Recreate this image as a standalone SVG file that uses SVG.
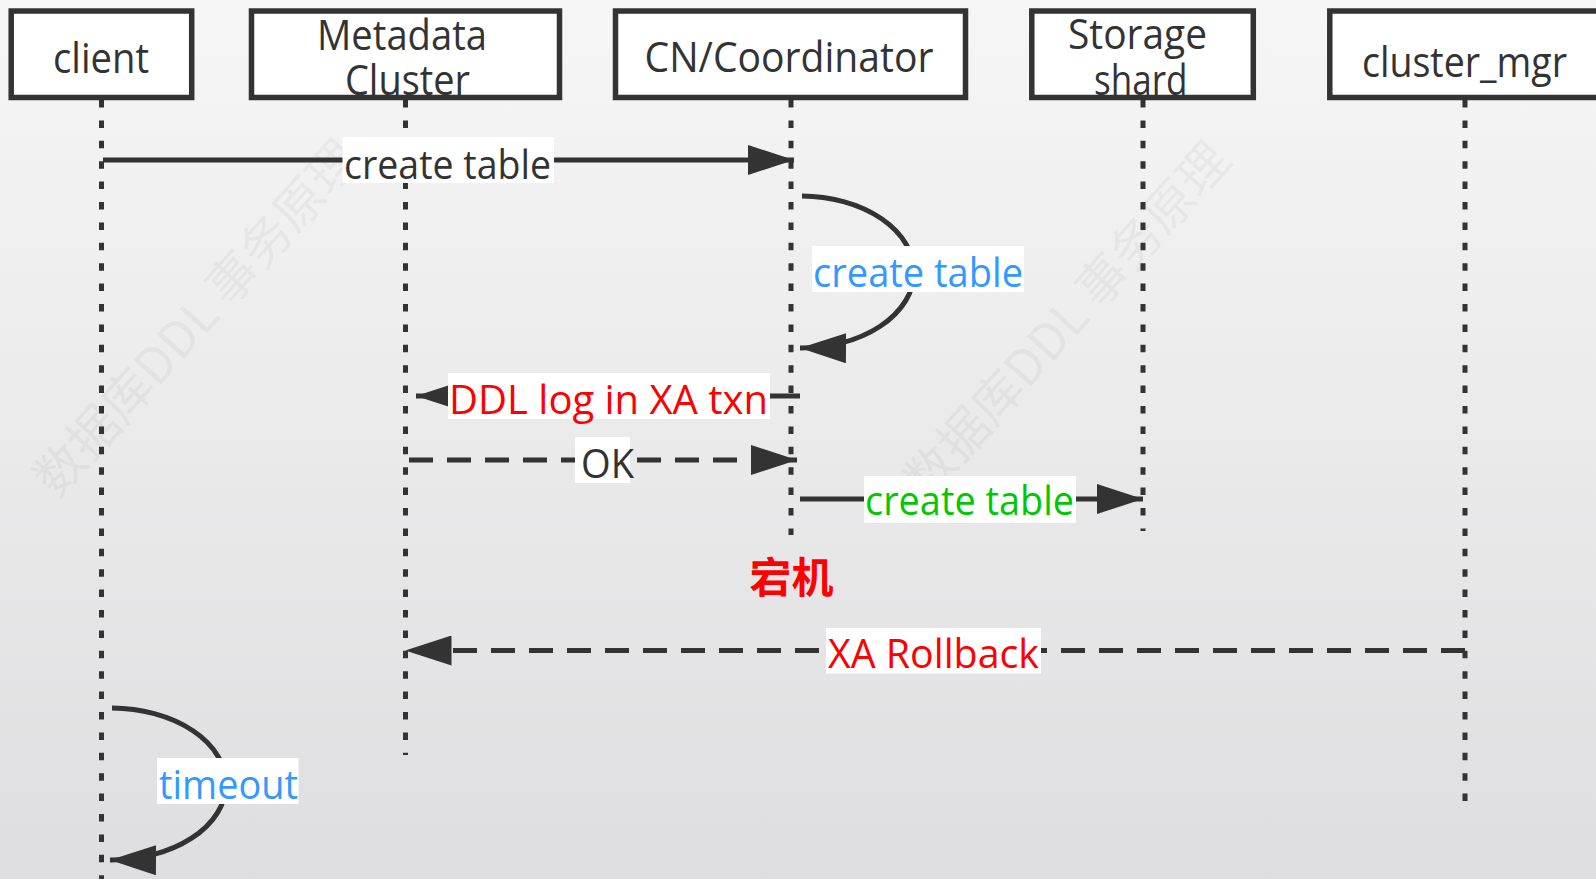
<svg xmlns="http://www.w3.org/2000/svg" width="1596" height="879" viewBox="0 0 1596 879">
  <defs>
    <linearGradient id="bg" x1="0" y1="0" x2="0" y2="1">
      <stop offset="0" stop-color="#f6f6f6"/>
      <stop offset="1" stop-color="#dedee0"/>
    </linearGradient>
    <marker id="arrow" markerUnits="userSpaceOnUse" viewBox="0 0 46 30" refX="46" refY="15" markerWidth="46" markerHeight="30" orient="auto">
      <path d="M0,0 L46,15 L0,30 Z" fill="#333333"/>
    </marker>
    <style>
      .fill { fill: #ffffff; stroke: none; }
      .frame { fill: none; stroke: #333333; stroke-width: 5.5; }
      .head { font-family: "Open Sans", "Noto Sans", sans-serif; font-size: 42px; fill: #333333; }
      .life { fill: none; stroke: #333333; stroke-width: 5; stroke-dasharray: 7.5 12.9; }
      .msg { fill: none; stroke: #333333; stroke-width: 5; }
      .dash { stroke-dasharray: 24 14; }
      .lblbg { fill: #ffffff; }
      .lbl { font-family: "Open Sans", "Noto Sans", sans-serif; font-size: 40px; }
      .cjk { font-family: "Noto Sans CJK SC", sans-serif; font-size: 42px; font-weight: bold; }
      .dark { fill: #333333; }
      .blue { fill: #3399ff; }
      .red { fill: #ff0000; }
      .green { fill: #00c800; }
      .wm { font-family: "Noto Sans CJK SC", sans-serif; font-size: 50px; fill: #000000; opacity: 0.035; }
    </style>
  </defs>

  <!-- backdrop -->
  <rect x="0" y="0" width="1596" height="879" fill="url(#bg)"/>

  <!-- faint diagonal stamps -->
  <g id="watermarks">
    <text class="wm" text-anchor="middle" transform="translate(210,330) rotate(-48)">数据库DDL 事务原理</text>
    <text class="wm" text-anchor="middle" transform="translate(1080,332) rotate(-48)">数据库DDL 事务原理</text>
  </g>

  <!-- lifelines -->
  <g id="lifelines">
    <line class="life" x1="101.5" y1="100" x2="101.5" y2="879"/>
    <line class="life" x1="405.5" y1="100" x2="405.5" y2="755"/>
    <line class="life" x1="791" y1="100" x2="791" y2="535"/>
    <line class="life" x1="1143" y1="100" x2="1143" y2="531"/>
    <line class="life" x1="1465" y1="100" x2="1465" y2="813"/>
  </g>

  <!-- messages -->
  <g id="connectors">
    <line class="msg" x1="103" y1="160" x2="794" y2="160" marker-end="url(#arrow)"/>
    <path class="msg" d="M802,196 A113,76 0 0 1 800,348" marker-end="url(#arrow)"/>
    <line class="msg" x1="800" y1="396" x2="416" y2="396" marker-end="url(#arrow)"/>
    <line class="msg dash" x1="409" y1="460" x2="797" y2="460" marker-end="url(#arrow)"/>
    <line class="msg" x1="800" y1="499" x2="1143" y2="499" marker-end="url(#arrow)"/>
    <line class="msg dash" x1="1465" y1="650.5" x2="405.5" y2="650.5" marker-end="url(#arrow)"/>
    <path class="msg" d="M112,708 A115,76 0 0 1 110,860" marker-end="url(#arrow)"/>
  </g>

  <!-- message labels -->
  <g id="label-create-1">
    <rect class="lblbg" x="342.5" y="137" width="211.5" height="46"/>
    <text class="lbl dark" x="344" y="179" textLength="207" lengthAdjust="spacingAndGlyphs">create table</text>
  </g>
  <g id="label-create-self">
    <rect class="lblbg" x="812" y="246" width="212" height="46"/>
    <text class="lbl blue" x="813" y="287" textLength="210" lengthAdjust="spacingAndGlyphs">create table</text>
  </g>
  <g id="label-ddl-log">
    <rect class="lblbg" x="448" y="373" width="322" height="46"/>
    <text class="lbl red" x="449" y="414" textLength="319" lengthAdjust="spacingAndGlyphs">DDL log in XA txn</text>
  </g>
  <g id="label-ok">
    <rect class="lblbg" x="575" y="437" width="55" height="46"/>
    <text class="lbl dark" x="581" y="478" textLength="53" lengthAdjust="spacingAndGlyphs">OK</text>
  </g>
  <g id="label-create-shard">
    <rect class="lblbg" x="864" y="476" width="212" height="47"/>
    <text class="lbl green" x="865" y="515" textLength="209" lengthAdjust="spacingAndGlyphs">create table</text>
  </g>
  <g id="label-crash">
    <text class="cjk red" x="791.5" y="593" text-anchor="middle">宕机</text>
  </g>
  <g id="label-rollback">
    <rect class="lblbg" x="826" y="628" width="215" height="45.5"/>
    <text class="lbl red" x="828" y="668" textLength="211" lengthAdjust="spacingAndGlyphs">XA Rollback</text>
  </g>
  <g id="label-timeout">
    <rect class="lblbg" x="157" y="758" width="141.5" height="46"/>
    <text class="lbl blue" x="159" y="799" textLength="139" lengthAdjust="spacingAndGlyphs">timeout</text>
  </g>

  <!-- participants: white body, caption, then frame on top -->
  <g id="node-client">
    <rect class="fill" x="11.2" y="11" width="180.5" height="86.5"/>
    <text class="head" x="53" y="72.5" textLength="96" lengthAdjust="spacingAndGlyphs">client</text>
    <rect class="frame" x="11.2" y="11" width="180.5" height="86.5"/>
  </g>
  <g id="node-metadata">
    <rect class="fill" x="251.5" y="11" width="308" height="86.5"/>
    <text class="head" x="317" y="50" textLength="170" lengthAdjust="spacingAndGlyphs">Metadata</text>
    <text class="head" x="345" y="95" textLength="125" lengthAdjust="spacingAndGlyphs">Cluster</text>
    <rect class="frame" x="251.5" y="11" width="308" height="86.5"/>
  </g>
  <g id="node-cn">
    <rect class="fill" x="615.5" y="11" width="350" height="86.5"/>
    <text class="head" x="644.5" y="72" textLength="289" lengthAdjust="spacingAndGlyphs">CN/Coordinator</text>
    <rect class="frame" x="615.5" y="11" width="350" height="86.5"/>
  </g>
  <g id="node-storage">
    <rect class="fill" x="1031.8" y="11" width="221.5" height="86.5"/>
    <text class="head" x="1068" y="48.5" textLength="139" lengthAdjust="spacingAndGlyphs">Storage</text>
    <text class="head" x="1094" y="95" textLength="93.5" lengthAdjust="spacingAndGlyphs">shard</text>
    <rect class="frame" x="1031.8" y="11" width="221.5" height="86.5"/>
  </g>
  <g id="node-cluster-mgr">
    <rect class="fill" x="1329.8" y="11" width="300" height="86.5"/>
    <text class="head" x="1362" y="77" textLength="205" lengthAdjust="spacingAndGlyphs">cluster_mgr</text>
    <rect class="frame" x="1329.8" y="11" width="300" height="86.5"/>
  </g>
</svg>
